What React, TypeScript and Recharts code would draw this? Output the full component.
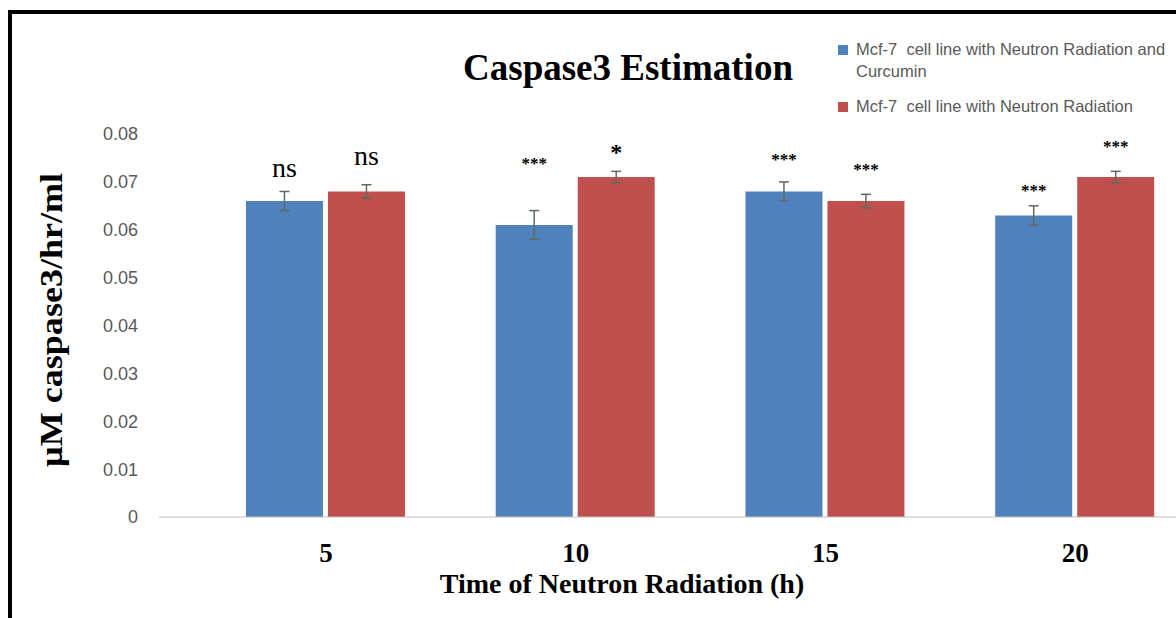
import React from 'react';
import { BarChart, Bar, XAxis, YAxis, ErrorBar, LabelList } from 'recharts';

const times = ['5', '10', '15', '20'];
const curcuminValues = [0.066, 0.061, 0.068, 0.063];
const curcuminErrors = [0.002, 0.003, 0.002, 0.002];
const radiationValues = [0.068, 0.071, 0.066, 0.071];
const radiationErrors = [0.0014, 0.0012, 0.0014, 0.0012];

// significance marks and the height (in data units) where each sits
const curcuminSig = ['ns', '***', '***', '***'];
const curcuminSigAt = [0.0725, 0.0744, 0.0752, 0.0689];
const radiationSig = ['ns', '*', '***', '***'];
const radiationSigAt = [0.075, 0.0771, 0.0733, 0.0781];

const yTicks = [0, 0.01, 0.02, 0.03, 0.04, 0.05, 0.06, 0.07, 0.08];

const seriesNames = [
    'Mcf-7  cell line with Neutron Radiation and Curcumin',
    'Mcf-7  cell line with Neutron Radiation'
];

const BLUE = '#4f81bd';
const RED = '#c0504d';
const SERIF = '"Liberation Serif", "Times New Roman", serif';
const SANS = '"Liberation Sans", Arial, sans-serif';

const data = times.map((t, i) => ({
    time: t,
    curcumin: curcuminValues[i],
    curcuminErr: curcuminErrors[i],
    curcuminSig: curcuminSig[i],
    radiation: radiationValues[i],
    radiationErr: radiationErrors[i],
    radiationSig: radiationSig[i]
}));

const sigLabel = (values: number[], at: number[]) => (props: any) => {
    const { index, value } = props;
    const vb = props.viewBox || props;
    const x = vb.x ?? props.x;
    const y = vb.y ?? props.y;
    const width = vb.width ?? props.width;
    const height = vb.height ?? props.height;
    const base = y + height;
    const perUnit = height / values[index];
    const cy = base - at[index] * perUnit;
    const cx = x + width / 2;
    if (value === 'ns') {
        return (
            <text x={cx} y={cy + 7} textAnchor="middle" fontFamily={SERIF} fontSize={28} fill="#000">
                {value}
            </text>
        );
    }
    const fs = value === '*' ? 24 : 17;
    return (
        <text x={cx} y={cy + fs * 0.5} textAnchor="middle" fontFamily={SERIF} fontWeight="bold" fontSize={fs} fill="#000">
            {value}
        </text>
    );
};

function ChartLegend() {
    const colors = [BLUE, RED];
    const tops = [38, 95];
    return (
        <div>
            {seriesNames.map((name, i) => (
                <div
                    key={name}
                    style={{
                        position: 'absolute',
                        left: 838,
                        top: tops[i],
                        width: 370,
                        display: 'flex',
                        alignItems: 'flex-start',
                        fontFamily: SANS,
                        fontSize: 16.5,
                        lineHeight: '22px',
                        color: '#595959'
                    }}
                >
                    <span style={{ width: 10, height: 10, background: colors[i], marginTop: 7, marginRight: 8, flex: 'none' }} />
                    <span style={{ width: 316, whiteSpace: 'pre-wrap' }}>{name}</span>
                </div>
            ))}
        </div>
    );
}

export default function App() {
    return (
        <div style={{ position: 'absolute', left: 0, top: 0, width: 1176, height: 618, overflow: 'hidden', background: '#fff' }}>
            <div
                style={{
                    position: 'absolute',
                    left: 8,
                    top: 10,
                    width: 1300,
                    height: 700,
                    border: '4px solid #000',
                    boxSizing: 'border-box'
                }}
            />
            <div style={{ position: 'absolute', left: 0, top: 0 }}>
                <BarChart
                    width={1205}
                    height={618}
                    data={data}
                    margin={{ top: 134, right: 5, left: 0, bottom: 17 }}
                    barCategoryGap="18%"
                    barGap={5}
                >
                    <XAxis
                        dataKey="time"
                        height={84}
                        padding={{ left: 42, right: 0 }}
                        tickLine={false}
                        tickSize={0}
                        tickMargin={26}
                        axisLine={{ stroke: '#bfbfbf' }}
                        tick={{ fontFamily: SERIF, fontWeight: 'bold', fontSize: 27, fill: '#000' }}
                    />
                    <YAxis
                        width={159}
                        domain={[0, 0.08]}
                        ticks={yTicks}
                        axisLine={false}
                        tickLine={false}
                        tickSize={0}
                        tickMargin={21}
                        tickFormatter={(v: number) => (v === 0 ? '0' : v.toFixed(2))}
                        tick={{ fontFamily: SANS, fontSize: 18, fill: '#595959' }}
                    />
                    <Bar dataKey="curcumin" fill={BLUE} isAnimationActive={false}>
                        <ErrorBar dataKey="curcuminErr" width={5} stroke="#5f6a60" strokeWidth={1.5} />
                        <LabelList dataKey="curcuminSig" content={sigLabel(curcuminValues, curcuminSigAt)} />
                    </Bar>
                    <Bar dataKey="radiation" fill={RED} isAnimationActive={false}>
                        <ErrorBar dataKey="radiationErr" width={5} stroke="#5f6a60" strokeWidth={1.5} />
                        <LabelList dataKey="radiationSig" content={sigLabel(radiationValues, radiationSigAt)} />
                    </Bar>
                </BarChart>
            </div>
            <svg width={1176} height={618} style={{ position: 'absolute', left: 0, top: 0, pointerEvents: 'none' }}>
                <text x={628} y={80} textAnchor="middle" fontFamily={SERIF} fontWeight="bold" fontSize={37} fill="#000">
                    Caspase3 Estimation
                </text>
                <text x={622} y={593} textAnchor="middle" fontFamily={SERIF} fontWeight="bold" fontSize={28} fill="#000">
                    Time of Neutron Radiation (h)
                </text>
                <text
                    transform="translate(62, 320) rotate(-90)"
                    textAnchor="middle"
                    fontFamily={SERIF}
                    fontWeight="bold"
                    fontSize={31}
                    textLength={294}
                    lengthAdjust="spacingAndGlyphs"
                    fill="#000"
                >
                    µM caspase3/hr/ml
                </text>
            </svg>
            <ChartLegend />
        </div>
    );
}
